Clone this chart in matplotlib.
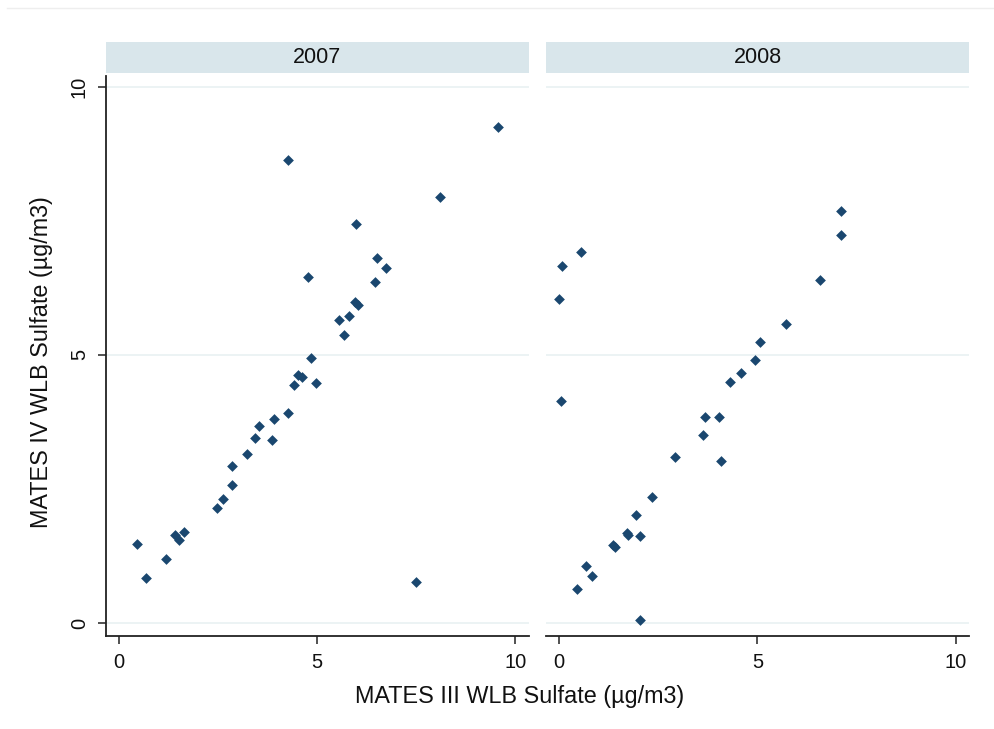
import matplotlib
matplotlib.use("Agg")
import matplotlib.pyplot as plt
from matplotlib.lines import Line2D
from matplotlib.patches import Rectangle

plt.rcParams['font.family'] = ['Liberation Sans', 'DejaVu Sans']

years = ["2007", "2008"]

x_2007 = [4.27, 9.55, 8.09, 5.99, 6.51, 6.74, 6.46, 4.77, 5.96, 6.03, 5.80, 5.56, 5.68,
          4.85, 4.52, 4.61, 4.97, 4.42, 4.27, 3.90, 3.53, 3.43, 3.87, 3.24, 2.85, 2.85,
          2.48, 2.63, 1.63, 1.42, 1.51, 0.44, 1.19, 0.68, 7.50]
y_2007 = [8.63, 9.24, 7.94, 7.44, 6.80, 6.62, 6.36, 6.45, 5.98, 5.93, 5.72, 5.64, 5.37,
          4.94, 4.62, 4.58, 4.47, 4.43, 3.92, 3.80, 3.68, 3.45, 3.42, 3.15, 2.92, 2.57,
          2.15, 2.31, 1.69, 1.64, 1.55, 1.47, 1.20, 0.85, 0.77]

x_2008 = [7.11, 7.11, 0.56, 0.08, 0.01, 6.57, 5.72, 5.06, 4.95, 4.59, 4.31, 0.05, 3.69,
          4.04, 3.64, 2.92, 4.07, 2.34, 1.94, 1.70, 1.74, 2.03, 1.35, 1.40, 0.68, 0.84,
          0.45, 2.03]
y_2008 = [7.68, 7.24, 6.92, 6.65, 6.04, 6.39, 5.58, 5.23, 4.90, 4.67, 4.49, 4.14, 3.85,
          3.85, 3.50, 3.09, 3.03, 2.35, 2.01, 1.68, 1.65, 1.62, 1.45, 1.41, 1.07, 0.87,
          0.63, 0.05]

ticks = [0, 5, 10]
xlabel = "MATES III WLB Sulfate (µg/m3)"
ylabel = "MATES IV WLB Sulfate (µg/m3)"

W, H = 995, 729
fig = plt.figure(figsize=(W / 100, H / 100), dpi=100)
fig.patch.set_facecolor("white")

marker_color = "#1a476f"
grid_color = "#eaf2f3"
strip_color = "#d9e6eb"
spine_color = "#222222"
text_color = "#111111"

def fx(px):
    return px / W

def fy(py):
    return 1 - py / H

top_px, bot_px = 76, 636
panels = [(106, 528.7), (546, 969)]
data = [(x_2007, y_2007), (x_2008, y_2008)]

for i, ((l, r), (xs, ys), yr) in enumerate(zip(panels, data, years)):
    ax = fig.add_axes([fx(l), fy(bot_px), fx(r - l), fy(top_px) - fy(bot_px)])
    ax.set_xlim(-0.33, 10.335)
    ax.set_ylim(-0.24, 10.196)
    for t in ticks:
        ax.axhline(t, color=grid_color, lw=1.3, zorder=0)
    ax.scatter(xs, ys, marker="D", s=30, color=marker_color, linewidths=0, zorder=3)
    for s in ["top", "right"]:
        ax.spines[s].set_visible(False)
    ax.spines["bottom"].set_color(spine_color)
    ax.spines["bottom"].set_linewidth(1.3)
    ax.set_xticks(ticks)
    ax.set_xticklabels([str(t) for t in ticks])
    ax.tick_params(axis="x", length=5.8, width=1.1, color=spine_color, pad=6.5,
                   labelsize=14.5, labelcolor=text_color)
    if i == 0:
        ax.spines["left"].set_color(spine_color)
        ax.spines["left"].set_linewidth(1.3)
        ax.set_yticks(ticks)
        ax.set_yticklabels([str(t) for t in ticks], rotation=90, va="center")
        ax.tick_params(axis="y", length=5.8, width=1.1, color=spine_color, pad=6.5,
                       labelsize=14.5, labelcolor=text_color)
    else:
        ax.spines["left"].set_visible(False)
        ax.set_yticks([])
    ax.set_facecolor("white")
    fig.patches.append(Rectangle((fx(l), fy(73)), fx(r - l), fy(42) - fy(73),
                                 transform=fig.transFigure, facecolor=strip_color,
                                 edgecolor="none", zorder=1))
    fig.text(fx((l + r) / 2), fy(57.5), yr, ha="center", va="center",
             fontsize=15.5, color=text_color)

fig.text(fx(520), fy(697), xlabel, ha="center", va="center", fontsize=16.8, color=text_color)
fig.text(fx(42), fy(362), ylabel, ha="center", va="center", rotation=90,
         fontsize=16.8, color=text_color)

fig.add_artist(Line2D([fx(7), 1], [fy(7.5), fy(7.5)], transform=fig.transFigure,
                      color="#eeeeee", lw=1))

fig.savefig("out.png", dpi=100, facecolor="white")
